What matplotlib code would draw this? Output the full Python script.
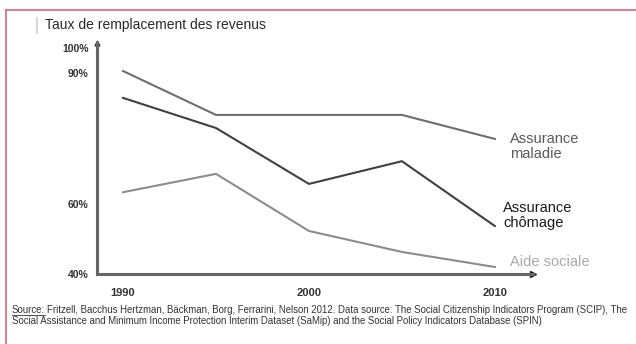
import numpy as np
import matplotlib.pyplot as plt
from matplotlib.lines import Line2D

plt.rcParams['font.family'] = ['Liberation Sans', 'DejaVu Sans']

years = [1990, 1995, 2000, 2005, 2010]
maladie = [90.8, 80.4, 80.4, 80.4, 74.9]
chomage = [84.3, 77.4, 64.6, 69.8, 53.7]
aide = [62.7, 66.9, 52.3, 46.3, 42.0]

ytick_vals = [40, 60, 90, 100]
ytick_labels = ['40%', '60%', '90%', '100%']
xtick_vals = [1990, 2000, 2010]

# the original axis is schematic: spacing between labelled ticks is not even
scale_vals = [30, 40, 60, 90, 100, 120]
scale_pos = [-35, 0, 70, 201, 226, 276]


def fwd(v):
    return np.interp(v, scale_vals, scale_pos)


def inv(p):
    return np.interp(p, scale_pos, scale_vals)


fig = plt.figure(figsize=(6.36, 3.44), dpi=100)
fig.patch.set_facecolor('white')

W, H = 636.0, 344.0
ax = fig.add_axes([97 / W, 1 - 274 / H, (533 - 97) / W, (274 - 43) / H])
ax.set_yscale('function', functions=(fwd, inv))
ax.set_xlim(1988.6, 2012.05)
ax.set_ylim(40, inv(231))

ax.plot(years, maladie, color='#6e6e6e', lw=1.5, solid_joinstyle='miter')
ax.plot(years, chomage, color='#404040', lw=1.5, solid_joinstyle='miter')
ax.plot(years, aide, color='#8c8c8c', lw=1.5, solid_joinstyle='miter')

ax.text(2010.8, 73.1, 'Assurance\nmaladie', color='#5a5a5a', fontsize=10.5,
        va='center', ha='left', linespacing=1.1)
ax.text(2010.45, 56.6, 'Assurance\nchômage', color='#1a1a1a', fontsize=10.5,
        va='center', ha='left', linespacing=1.1)
ax.text(2010.8, 43.4, 'Aide sociale', color='#a8a8a8', fontsize=10.5,
        va='center', ha='left')

for s in ['top', 'right']:
    ax.spines[s].set_visible(False)
for s in ['left', 'bottom']:
    ax.spines[s].set_color('#666666')
    ax.spines[s].set_linewidth(2.2)

# axis arrows
ax.plot(1, 0, '>', color='#222222', ms=4, transform=ax.transAxes, clip_on=False)
ax.plot(0, 1, '^', color='#333333', ms=3.5, transform=ax.transAxes, clip_on=False)

ax.set_yticks(ytick_vals)
ax.set_yticklabels(ytick_labels, fontsize=7.5, fontweight='bold', color='#333333')
ax.yaxis.set_minor_locator(plt.NullLocator())
ax.set_xticks(xtick_vals)
ax.set_xticklabels([str(x) for x in xtick_vals], fontsize=8, fontweight='bold',
                   color='#333333')
ax.tick_params(axis='both', length=0)
ax.tick_params(axis='y', pad=6)
ax.tick_params(axis='x', pad=10)

# title with small bar on the left
fig.text(45 / W, 1 - 25 / H, 'Taux de remplacement des revenus', fontsize=10,
         color='#2a2a2a', va='center', ha='left')
fig.add_artist(Line2D([37 / W, 37 / W], [1 - 18 / H, 1 - 33 / H],
                      color='#cccccc', lw=1.2))

# source
src_fs = 6.95
src = fig.text(12 / W, 1 - 310 / H, 'Source:', fontsize=src_fs, color='#333333',
               va='center', ha='left')
fig.canvas.draw()
bb = src.get_window_extent(fig.canvas.get_renderer())
x_end = bb.x1 / W
fig.add_artist(Line2D([12 / W, x_end], [1 - 314.5 / H, 1 - 314.5 / H],
                      color='#333333', lw=0.6))
fig.text(x_end + 2 / W, 1 - 310 / H,
         'Fritzell, Bacchus Hertzman, Bäckman, Borg, Ferrarini, Nelson 2012. '
         'Data source: The Social Citizenship Indicators Program (SCIP), The',
         fontsize=src_fs, color='#333333', va='center', ha='left')
fig.text(12 / W, 1 - 321 / H,
         'Social Assistance and Minimum Income Protection Interim Dataset (SaMip) '
         'and the Social Policy Indicators Database (SPIN)',
         fontsize=src_fs, color='#333333', va='center', ha='left')

# pink frame on top and left
fig.add_artist(Line2D([6 / W, 1], [1 - 10 / H, 1 - 10 / H], color='#e06478', lw=1.2))
fig.add_artist(Line2D([6 / W, 6 / W], [0, 1 - 10 / H], color='#e06478', lw=1.2))

fig.savefig('out.png', dpi=100)
